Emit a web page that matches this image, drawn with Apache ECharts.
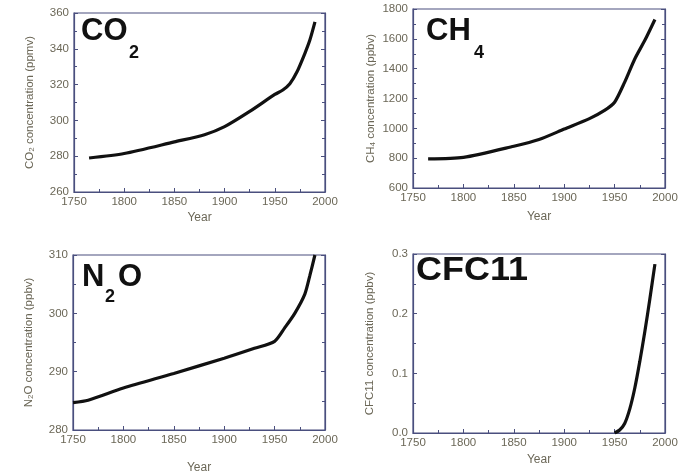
<!DOCTYPE html>
<html>
<head>
<meta charset="utf-8">
<script src="https://cdn.jsdelivr.net/npm/echarts@6/dist/echarts.min.js"></script>
<style>
  html, body { margin: 0; padding: 0; background: #fff; }
  #chart { width: 693px; height: 475px; }
</style>
</head>
<body>
<div id="chart"></div>
<script>
// CO2 (ppmv)
const co2Years = [1765, 1800, 1850, 1880, 1900, 1925, 1950, 1958, 1965, 1972, 1980, 1985, 1990]
const co2Values = [279, 281.5, 288, 292, 296.5, 305, 314.5, 317, 320.5, 327, 337.5, 345, 355]

// CH4 (ppbv)
const ch4Years = [1765, 1800, 1850, 1875, 1900, 1925, 1940, 1950, 1960, 1970, 1980, 1990]
const ch4Values = [795, 805, 880, 925, 995, 1065, 1120, 1175, 1310, 1465, 1590, 1730]

// N2O (ppbv)
const n2oYears = [1750, 1765, 1800, 1850, 1900, 1930, 1950, 1960, 1970, 1980, 1985, 1990]
const n2oValues = [284.7, 285.1, 287.2, 289.7, 292.3, 294, 295.2, 297.5, 300, 303.3, 306.5, 310]

// CFC11 (ppbv)
const cfcYears = [1950, 1955, 1960, 1965, 1970, 1975, 1980, 1985, 1990]
const cfcValues = [0, 0.005, 0.016, 0.04, 0.075, 0.12, 0.17, 0.225, 0.283]

const yearTicks = { min: 1750, max: 2000, interval: 50 }
const yRanges = [
  { min: 260, max: 360, interval: 20, digits: 0 },
  { min: 600, max: 1800, interval: 200, digits: 0 },
  { min: 280, max: 310, interval: 10, digits: 0 },
  { min: 0, max: 0.3, interval: 0.1, digits: 1 }
]
const yNames = [
  'CO{s|2} concentration (ppmv)',
  'CH{s|4} concentration (ppbv)',
  'N{s|2}O concentration (ppbv)',
  'CFC11 concentration (ppbv)'
]

const frameColor = '#4a4f7e'
const labelColor = '#6b6757'
const fontFamily = 'Liberation Sans, Arial, sans-serif'

const grids = [
  { left: 74, top: 13, width: 251, height: 179 },
  { left: 413, top: 9, width: 252, height: 179 },
  { left: 73, top: 255, width: 252, height: 179 },
  { left: 413, top: 254, width: 252, height: 179 }
]
const yNameGaps = [38, 36, 38, 37]
const xNameGaps = [20, 23, 32, 21]

const toPairs = (xs, ys) => xs.map((x, i) => [x, ys[i]])
const seriesData = [
  toPairs(co2Years, co2Values),
  toPairs(ch4Years, ch4Values),
  toPairs(n2oYears, n2oValues),
  toPairs(cfcYears, cfcValues)
]

const chart = echarts.init(document.getElementById('chart'))

const xAxis = grids.map((g, i) => ({
  type: 'value',
  gridIndex: i,
  min: yearTicks.min,
  max: yearTicks.max,
  interval: yearTicks.interval,
  name: 'Year',
  nameLocation: 'middle',
  nameGap: xNameGaps[i],
  nameTextStyle: { color: labelColor, fontSize: 12, fontFamily },
  axisLine: { lineStyle: { color: frameColor, width: 1.2 } },
  axisTick: { inside: true, length: 4, lineStyle: { color: frameColor } },
  minorTick: { show: true, splitNumber: 2, length: 3, lineStyle: { color: frameColor } },
  axisLabel: { color: labelColor, fontSize: 11.5, fontFamily, margin: 4, formatter: v => String(v) },
  splitLine: { show: false }
}))

const yAxis = []
grids.forEach((g, i) => {
  const r = yRanges[i]
  yAxis.push({
    type: 'value',
    gridIndex: i,
    min: r.min,
    max: r.max,
    interval: r.interval,
    name: yNames[i],
    nameLocation: 'middle',
    nameGap: yNameGaps[i],
    nameTextStyle: {
      color: labelColor,
      fontSize: 11.5,
      fontFamily,
      rich: { s: { fontSize: 8, color: labelColor, fontFamily, padding: [5, 0, 0, 0] } }
    },
    axisLine: { show: true, lineStyle: { color: frameColor, width: 1.2 } },
    axisTick: { inside: true, length: 4, lineStyle: { color: frameColor } },
    minorTick: { show: true, splitNumber: 2, length: 3, lineStyle: { color: frameColor } },
    axisLabel: {
      color: labelColor,
      fontSize: 11.5,
      fontFamily,
      margin: 5,
      formatter: v => v.toFixed(r.digits)
    },
    splitLine: { show: false }
  })
  // right-hand copy, ticks only
  yAxis.push({
    type: 'value',
    gridIndex: i,
    position: 'right',
    min: r.min,
    max: r.max,
    interval: r.interval,
    axisLine: { show: true, lineStyle: { color: frameColor, width: 1.2 } },
    axisTick: { inside: true, length: 4, lineStyle: { color: frameColor } },
    minorTick: { show: true, splitNumber: 2, length: 3, lineStyle: { color: frameColor } },
    axisLabel: { show: false },
    splitLine: { show: false }
  })
})

const series = seriesData.map((d, i) => ({
  type: 'line',
  xAxisIndex: i,
  yAxisIndex: i * 2,
  data: d,
  smooth: 0.25,
  symbol: 'none',
  lineStyle: { color: '#111', width: 3.2 }
}))

// big gas labels with subscripts
const titleFont = 'bold 31px Liberation Sans, Arial, sans-serif'
const subFont = 'bold 18px Liberation Sans, Arial, sans-serif'
const txt = (text, x, y, font, sx) => ({
  type: 'text',
  x, y,
  scaleX: sx || 1,
  style: { text, font, fill: '#111', textVerticalAlign: 'middle' },
  z: 100
})
const graphic = [
  txt('CO', 81, 31, titleFont),
  txt('2', 129, 53, subFont),
  txt('CH', 426, 31, titleFont),
  txt('4', 474, 53, subFont),
  txt('N', 82, 277, titleFont),
  txt('2', 105, 297, subFont),
  txt('O', 118, 277, titleFont),
  txt('CFC11', 416, 271, 'bold 33px Liberation Sans, Arial, sans-serif', 1.09)
]

chart.setOption({
  backgroundColor: '#fff',
  animation: false,
  grid: grids.map(g => ({ ...g, show: true, borderColor: frameColor, borderWidth: 1.2, backgroundColor: 'transparent' })),
  xAxis,
  yAxis,
  series,
  graphic
})
</script>
</body>
</html>
